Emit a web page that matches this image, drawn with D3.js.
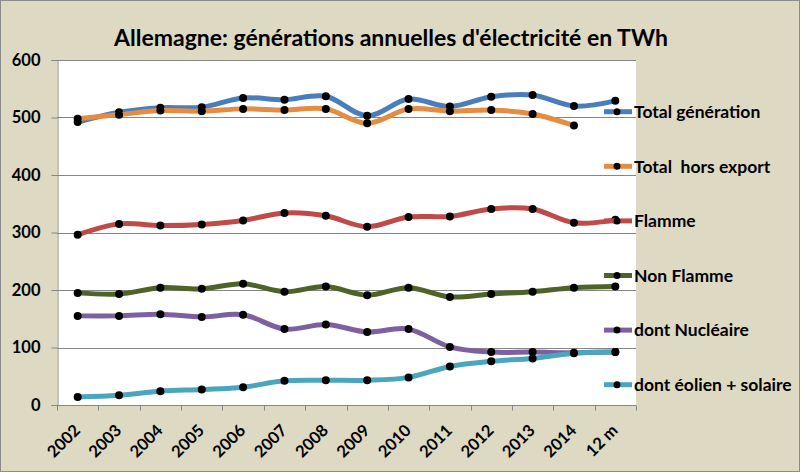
<!DOCTYPE html>
<html><head><meta charset="utf-8">
<script src="https://cdn.jsdelivr.net/npm/d3@7"></script>
<style>
body{margin:0;background:#fff}
svg{display:block}
text{font-family:Lato,"Open Sans","DejaVu Sans",sans-serif;font-weight:bold;fill:#000}
</style>
</head><body>
<svg id="c" width="802" height="474"></svg>
<script>
const categories=["2002","2003","2004","2005","2006","2007","2008","2009","2010","2011","2012","2013","2014","12 m"];
const totalGeneration=[492,509,517,518,534,531,537,503,532,519,536,539,520,529];
const totalHorsExport=[498,505,512,511,515,513,515,490,515,511,513,506,486,null];
const flamme=[296,315,312,314,321,334,329,310,327,328,341,341,317,322];
const nonFlamme=[195,193,204,202,211,197,206,191,204,188,193,197,204,206];
const nucleaire=[155,155,158,153,157,132,140,127,132,101,92,92,91,92];
const eolienSolaire=[14,17,24,27,31,42,43,43,48,67,76,81,90,92];
const yTicks=[0,100,200,300,400,500,600];
const seriesNames=["Total génération","Total  hors export","Flamme","Non Flamme","dont Nucléaire","dont éolien + solaire"];
const seriesColors=["#4A7EBB","#E38C42","#BE4B48","#4F6228","#7D60A0","#4AA5BF"];
const title="Allemagne: générations annuelles d'électricité en TWh";

const allSeries=[totalGeneration,totalHorsExport,flamme,nonFlamme,nucleaire,eolienSolaire];

const svg=d3.select("#c");
const W=802,H=474;
svg.append("rect").attr("x",0.5).attr("y",0.5).attr("width",W-3).attr("height",H-3)
  .attr("fill","#DDD9C3").attr("stroke","#8C8C8C").attr("stroke-width",1);

const L=57,R=636,T=60,B=405;
const x=d3.scaleBand().domain(categories).range([L,R]);
const y=d3.scaleLinear().domain([0,600]).range([B,T]);

svg.append("rect").attr("x",L).attr("y",T).attr("width",R-L).attr("height",B-T).attr("fill","#fff");

// gridlines
svg.append("g").selectAll("line").data(yTicks.filter(d=>d>0)).join("line")
  .attr("x1",L).attr("x2",R).attr("y1",d=>Math.round(y(d))+0.5).attr("y2",d=>Math.round(y(d))+0.5)
  .attr("stroke","#868686").attr("stroke-width",1);

// y axis
const ya=svg.append("g").attr("transform",`translate(${L+0.5},0)`)
  .call(d3.axisLeft(y).tickValues(yTicks).tickSize(6).tickPadding(11).tickFormat(d3.format("d")));
ya.select(".domain").attr("stroke","#868686");
ya.selectAll(".tick line").attr("stroke","#868686");
ya.selectAll(".tick text").style("font-size","16.5px").style("font-family","Lato").style("font-weight","bold");

// x axis
const xa=svg.append("g").attr("transform",`translate(0,${B+0.5})`)
  .call(d3.axisBottom(x).tickSize(0).tickFormat(d=>d));
xa.select(".domain").attr("stroke","#868686").attr("d",`M${L},0H${R}`);
xa.selectAll(".tick text").style("font-size","16.5px").style("font-family","Lato").style("font-weight","bold")
  .attr("text-anchor","end").attr("dy",null).attr("y",0)
  .attr("transform","translate(3.5,26) rotate(-45)");
const bounds=categories.map(c=>x(c)).concat([R]);
xa.append("g").selectAll("line").data(bounds).join("line")
  .attr("x1",d=>Math.round(d)+0.5).attr("x2",d=>Math.round(d)+0.5).attr("y1",0).attr("y2",5)
  .attr("stroke","#868686");

// lines
const cx=c=>x(c)+x.bandwidth()/2;
const line=d3.line().defined(d=>d.v!=null).x(d=>cx(d.c)).y(d=>y(d.v)).curve(d3.curveCatmullRom.alpha(0));
allSeries.forEach((s,i)=>{
  const pts=categories.map((c,j)=>({c,v:s[j]}));
  svg.append("path").datum(pts).attr("d",line).attr("fill","none")
    .attr("stroke",seriesColors[i]).attr("stroke-width",5).attr("stroke-linecap","round").attr("stroke-linejoin","round");
  svg.append("g").selectAll("circle").data(pts.filter(d=>d.v!=null)).join("circle")
    .attr("cx",d=>cx(d.c)).attr("cy",d=>y(d.v)).attr("r",4).attr("fill","#000");
});

// legend
const lg=svg.append("g");
seriesNames.forEach((n,i)=>{
  const ly=111.7+i*54.6;
  lg.append("line").attr("x1",604).attr("x2",632).attr("y1",ly).attr("y2",ly)
    .attr("stroke",seriesColors[i]).attr("stroke-width",5);
  lg.append("circle").attr("cx",617).attr("cy",ly).attr("r",3.5).attr("fill","#000");
  lg.append("text").attr("x",634).attr("y",ly).attr("dy","0.36em").style("font-size","17.5px")
    .style("white-space","pre").attr("xml:space","preserve").text(n);
});

// title
svg.append("text").attr("x",391).attr("y",46).attr("text-anchor","middle")
  .style("font-size","23px").text(title);
</script>
</body></html>
